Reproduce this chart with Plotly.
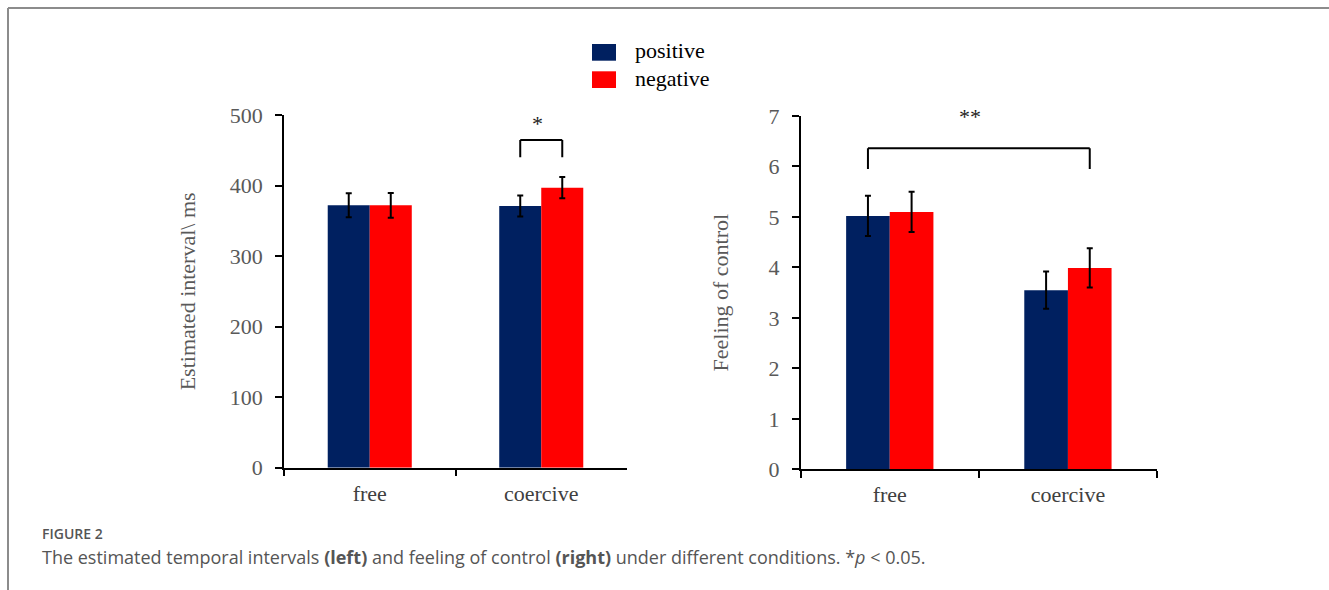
import plotly.graph_objects as go

# ---------------- data ----------------
conditions = ["free", "coercive"]
series_names = ["positive", "negative"]
series_colors = ["#002060", "#FF0000"]

interval_positive = [372, 371]
interval_positive_err = [17, 15]
interval_negative = [372, 397]
interval_negative_err = [17.5, 15]

control_positive = [5.02, 3.55]
control_positive_err = [0.40, 0.37]
control_negative = [5.10, 3.99]
control_negative_err = [0.40, 0.39]

interval_ticks = [0, 100, 200, 300, 400, 500]
control_ticks = [0, 1, 2, 3, 4, 5, 6, 7]

SERIF = "Liberation Serif, Times New Roman, serif"
SANS = "Open Sans, Noto Sans, sans-serif"
GRAY = "#595959"

fig = go.Figure()

def add_bars(vals, errs, name, color, xa, ya):
    fig.add_trace(go.Bar(
        x=conditions, y=vals, name=name, marker=dict(color=color, line=dict(width=0)),
        error_y=dict(type="data", array=errs, visible=True, color="black", thickness=2, width=3),
        xaxis=xa, yaxis=ya, showlegend=False))

add_bars(interval_positive, interval_positive_err, series_names[0], series_colors[0], "x", "y")
add_bars(interval_negative, interval_negative_err, series_names[1], series_colors[1], "x", "y")
add_bars(control_positive, control_positive_err, series_names[0], series_colors[0], "x2", "y2")
add_bars(control_negative, control_negative_err, series_names[1], series_colors[1], "x2", "y2")

W, H = 1329, 590
common_x = dict(type="category", showline=True, linecolor="black", linewidth=1.5,
                ticks="outside", tickson="boundaries", ticklen=7, tickwidth=1.5, tickcolor="black",
                tickfont=dict(family=SERIF, size=22, color="#404040"), showgrid=False, zeroline=False,
                range=[-0.5, 1.5], automargin=False, ticklabelstandoff=5)
common_y = dict(showline=True, linecolor="black", linewidth=1.5, ticks="outside", ticklen=7,
                tickwidth=1.5, tickcolor="black", tickfont=dict(family=SERIF, size=22, color=GRAY),
                showgrid=False, zeroline=False, automargin=False, ticklabelstandoff=8)

fig.update_layout(
    width=W, height=H, margin=dict(l=0, r=0, t=0, b=0, pad=0, autoexpand=False),
    paper_bgcolor="white", plot_bgcolor="white", showlegend=False,
    barmode="group", bargap=0.51, bargroupgap=0,
    xaxis=dict(domain=[284 / W, 627 / W], anchor="y", **common_x),
    yaxis=dict(domain=[1 - 467.7 / H, 1 - 115 / H], anchor="x", range=[0, 500],
               tickvals=interval_ticks,
               title=dict(text="Estimated interval\\ ms", font=dict(family=SERIF, size=22, color=GRAY),
                          standoff=28),
               **common_y),
    xaxis2=dict(domain=[800.7 / W, 1157 / W], anchor="y2", **common_x),
    yaxis2=dict(domain=[1 - 469.3 / H, 1 - 116 / H], anchor="x2", range=[0, 7],
                tickvals=control_ticks,
                title=dict(text="Feeling of control", font=dict(family=SERIF, size=22, color=GRAY),
                           standoff=34),
                **common_y),
)

# significance brackets (bar centres within group)
off = (1 - 0.51) / 4
def bracket(xa, ya, x0, x1, ytop, yleg):
    for (a, b, c, d) in [(x0, yleg, x0, ytop), (x0, ytop, x1, ytop), (x1, ytop, x1, yleg)]:
        fig.add_shape(type="line", xref=xa, yref=ya, x0=a, y0=b, x1=c, y1=d,
                      line=dict(color="black", width=2))

bracket("x", "y", 1 - off, 1 + off, 464.6, 440)
bracket("x2", "y2", 0 - off, 1 + off, 6.36, 5.95)
fig.add_annotation(xref="x", yref="y", x=0.98, y=488, text="*", showarrow=False,
                   font=dict(family=SERIF, size=22, color="#222"))
fig.add_annotation(xref="x2", yref="y2", x=0.45, y=7.0, text="**", showarrow=False,
                   font=dict(family=SERIF, size=22, color="#222"))

# legend (drawn manually)
for i, (nm, col) in enumerate(zip(series_names, series_colors)):
    y0 = 44 + i * 27.3
    fig.add_shape(type="rect", xref="paper", yref="paper", x0=592 / W, x1=616 / W,
                  y0=1 - (y0 + 16.7) / H, y1=1 - y0 / H, fillcolor=col, line=dict(width=0))
    fig.add_annotation(xref="paper", yref="paper", x=633 / W, y=1 - (y0 + 7) / H, text=nm,
                       showarrow=False, xanchor="left", yanchor="middle",
                       font=dict(family=SERIF, size=22, color="black"))

# frame
fig.add_shape(type="line", xref="paper", yref="paper", x0=8 / W, x1=1, y0=1 - 8 / H, y1=1 - 8 / H,
              line=dict(color="#8c8c8c", width=2))
fig.add_shape(type="line", xref="paper", yref="paper", x0=8 / W, x1=8 / W, y0=0, y1=1 - 8 / H,
              line=dict(color="#8c8c8c", width=2))

# caption
fig.add_annotation(xref="paper", yref="paper", x=40 / W, y=1 - 533 / H, text="FIGURE 2",
                   showarrow=False, xanchor="left", yanchor="middle",
                   font=dict(family=SANS, size=14, color="#555555", weight=600))
fig.add_annotation(xref="paper", yref="paper", x=40 / W, y=1 - 557 / H,
                   text="The estimated temporal intervals <b>(left)</b> and feeling of control "
                        "<b>(right)</b> under different conditions. *<i>p</i> &lt; 0.05.",
                   showarrow=False, xanchor="left", yanchor="middle",
                   font=dict(family=SANS, size=18, color="#555555"))

fig.write_html("out.html")
